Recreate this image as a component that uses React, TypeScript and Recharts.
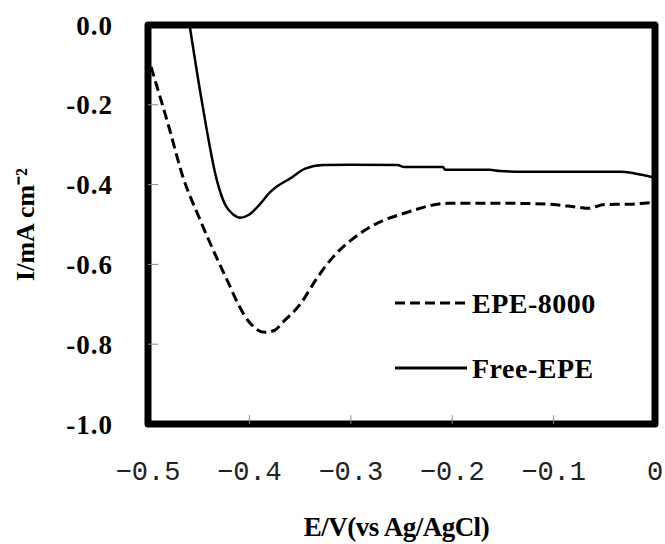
import { LineChart, Line, XAxis, YAxis, ReferenceArea, ReferenceLine } from "recharts";

// EPE-8000 (dashed)
const EPE_X = [-0.497, -0.48, -0.465, -0.45, -0.432, -0.42, -0.412, -0.4, -0.385, -0.375, -0.367, -0.35, -0.333, -0.318, -0.3, -0.278, -0.245, -0.205, -0.14, -0.1, -0.075, -0.065, -0.05, -0.025, 0];
const EPE_Y = [-0.105, -0.25, -0.385, -0.48, -0.585, -0.65, -0.695, -0.745, -0.77, -0.765, -0.745, -0.7, -0.633, -0.583, -0.54, -0.502, -0.47, -0.447, -0.447, -0.45, -0.457, -0.459, -0.45, -0.449, -0.444];

// Free-EPE (solid)
const FREE_X = [-0.459, -0.447, -0.432, -0.424, -0.416, -0.409, -0.4, -0.39, -0.38, -0.373, -0.36, -0.345, -0.327, -0.3, -0.254, -0.247, -0.209, -0.207, -0.163, -0.153, -0.13, -0.035, -0.02, 0];
const FREE_Y = [0, -0.19, -0.39, -0.45, -0.475, -0.483, -0.475, -0.45, -0.42, -0.405, -0.385, -0.36, -0.351, -0.35, -0.351, -0.356, -0.356, -0.363, -0.363, -0.366, -0.368, -0.368, -0.372, -0.383];

const X_TICKS = [-0.5, -0.4, -0.3, -0.2, -0.1, 0];
const Y_TICKS = [0, -0.2, -0.4, -0.6, -0.8, -1.0];

const SERIES_NAMES = ["EPE-8000", "Free-EPE"];

const epeData = EPE_X.map((x, i) => ({ x, y: EPE_Y[i] }));
const freeData = FREE_X.map((x, i) => ({ x, y: FREE_Y[i] }));

const SERIF = "'Liberation Serif', 'Times New Roman', serif";

// legend drawn as an overlay so the chart keeps its full plot height
const LegendBox = () => (
  <svg width={230} height={100} style={{ position: "absolute", left: 395, top: 285 }}>
    <line x1={0} y1={18} x2={72} y2={18} stroke="#000" strokeWidth={3} strokeDasharray="10 5" />
    <text x={77} y={28} fontFamily={SERIF} fontWeight="bold" fontSize={28} letterSpacing={0.5}>{SERIES_NAMES[0]}</text>
    <line x1={0} y1={83} x2={72} y2={83} stroke="#000" strokeWidth={3} />
    <text x={77} y={93} fontFamily={SERIF} fontWeight="bold" fontSize={28} letterSpacing={0.5}>{SERIES_NAMES[1]}</text>
  </svg>
);

export default function App() {
  return (
    <div style={{ position: "absolute", left: 0, top: 0, width: 665, height: 544, background: "#fff" }}>
      <LineChart width={665} height={544} margin={{ top: 25, right: 10, left: 0, bottom: 0 }}>
        <XAxis
          type="number"
          dataKey="x"
          domain={[-0.5, 0]}
          ticks={X_TICKS}
          tickFormatter={(v: number) => (v === 0 ? "0" : v.toFixed(1).replace("-", "\u2212"))}
          axisLine={false}
          tickLine={false}
          tickSize={0}
          tickMargin={37}
          height={120}
          tick={{ fontFamily: "'Liberation Mono', monospace", fontSize: 27, fill: "#222" }}
          allowDataOverflow
          label={{
            content: (props: any) => {
              const vb = props.viewBox;
              return (
                <text x={vb.x + vb.width / 2 - 5} y={536} textAnchor="middle" fontFamily={SERIF} fontWeight="bold" fontSize={27} letterSpacing={-0.5}>
                  E/V(vs Ag/AgCl)
                </text>
              );
            },
          }}
        />
        <YAxis
          type="number"
          dataKey="y"
          domain={[-1, 0]}
          ticks={Y_TICKS}
          tickFormatter={(v: number) => v.toFixed(1)}
          axisLine={false}
          tickLine={false}
          tickSize={0}
          tickMargin={35}
          width={148}
          tick={{ fontFamily: SERIF, fontWeight: "bold", fontSize: 27, fill: "#000", letterSpacing: 1 }}
          allowDataOverflow
          label={{
            content: (props: any) => {
              const vb = props.viewBox;
              const cy = vb.y + vb.height / 2;
              return (
                <text x={25} y={cy} transform={`rotate(-90, 25, ${cy})`} textAnchor="middle" dominantBaseline="central" fontFamily={SERIF} fontWeight="bold" fontSize={26}>
                  I/mA cm⁻²
                </text>
              );
            },
          }}
        />
        {X_TICKS.slice(1, -1).map((t) => (
          <ReferenceLine key={"xt" + t} segment={[{ x: t, y: -1 }, { x: t, y: -0.978 }]} stroke="#888" strokeWidth={1} />
        ))}
        {Y_TICKS.slice(1, -1).map((t) => (
          <ReferenceLine key={"yt" + t} segment={[{ x: -0.5, y: t }, { x: -0.49, y: t }]} stroke="#888" strokeWidth={1} />
        ))}
        <Line data={epeData} dataKey="y" name={SERIES_NAMES[0]} type="monotone" stroke="#000" strokeWidth={3} strokeDasharray="10 5" dot={false} isAnimationActive={false} />
        <Line data={freeData} dataKey="y" name={SERIES_NAMES[1]} type="monotone" stroke="#000" strokeWidth={2.5} dot={false} isAnimationActive={false} />
        <ReferenceArea x1={-0.5} x2={0} y1={-1} y2={0} fill="none" stroke="#000" strokeWidth={7} strokeLinejoin="round" ifOverflow="visible" />
      </LineChart>
      <LegendBox />
    </div>
  );
}
